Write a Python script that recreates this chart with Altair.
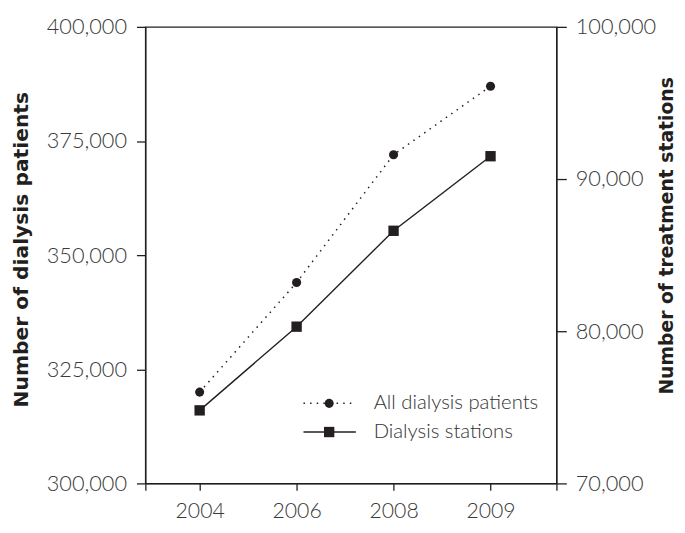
import altair as alt
import pandas as pd

years = ["2004", "2006", "2008", "2009"]
patients = [320000, 344000, 372000, 387000]
stations = [74800, 80300, 86600, 91500]
legend_labels = ["All dialysis patients", "Dialysis stations"]
left_ticks = [300000, 325000, 350000, 375000, 400000]
right_ticks = [70000, 80000, 90000, 100000]

df = pd.DataFrame({"i": list(range(len(years))), "year": years,
                   "patients": patients, "stations": stations})

INK = "#231f20"
x_lo, x_hi = -0.56, 3.68

label_expr = "''"
for k in reversed(range(len(years))):
    label_expr = f"datum.value == {k} ? '{years[k]}' : ({label_expr})"

x_enc = alt.X(
    "i:Q",
    scale=alt.Scale(domain=[x_lo, x_hi], nice=False, zero=False),
    axis=alt.Axis(values=[x_lo, 0, 1, 2, 3, x_hi], labelExpr=label_expr, title=None,
                  grid=False, tickSize=7, labelPadding=11, labelFlush=False,
                  labelOverlap=False, labelFontSize=21.5),
)

y_left = alt.Y(
    "patients:Q",
    scale=alt.Scale(domain=[300000, 400000], nice=False, zero=False),
    axis=alt.Axis(values=left_ticks, format=",d", orient="left",
                  title="Number of dialysis patients", titleX=-125, titleY=225,
                  titleAngle=270, titleAlign="center", titleBaseline="middle",
                  titleFontSize=20.5,
                  tickSize=9, labelPadding=10, grid=False),
)
y_right = alt.Y(
    "stations:Q",
    scale=alt.Scale(domain=[70000, 100000], nice=False, zero=False),
    axis=alt.Axis(values=right_ticks, format=",d", orient="right",
                  title="Number of treatment stations", titleX=111, titleY=211,
                  titleAngle=270, titleAlign="center", titleBaseline="middle",
                  titleFontSize=19,
                  tickSize=10, labelPadding=9, grid=False),
)

base = alt.Chart(df)
p_line = base.mark_line(color=INK, strokeWidth=1.5, strokeDash=[1.5, 5.2]).encode(x=x_enc, y=y_left)
p_pts = base.mark_point(shape="circle", filled=True, size=85, color=INK, opacity=1).encode(x=x_enc, y=y_left)
s_line = base.mark_line(color=INK, strokeWidth=1.4).encode(x=x_enc, y=y_right)
s_pts = base.mark_point(shape="square", filled=True, size=110, color=INK, opacity=1).encode(x=x_enc, y=y_right)

left = alt.layer(p_line, p_pts)
right = alt.layer(s_line, s_pts)

# manual legend
l1 = alt.Chart(pd.DataFrame({"label": [legend_labels[0]]}))
l2 = alt.Chart(pd.DataFrame({"label": [legend_labels[1]]}))
r1y, r2y = 381, 410
leg = alt.layer(
    l1.mark_rule(color=INK, strokeWidth=1.5, strokeDash=[1.5, 5.2]).encode(
        x=alt.value(160), x2=alt.value(213), y=alt.value(r1y)),
    l1.mark_point(shape="circle", filled=True, size=85, color=INK, opacity=1).encode(
        x=alt.value(186), y=alt.value(r1y)),
    l1.mark_text(align="left", baseline="middle", font="Lato", fontWeight=300,
                 fontSize=20.5, color="#333333").encode(
        x=alt.value(231), y=alt.value(r1y), text="label:N"),
    l2.mark_rule(color=INK, strokeWidth=1.4).encode(
        x=alt.value(160), x2=alt.value(213), y=alt.value(r2y)),
    l2.mark_point(shape="square", filled=True, size=110, color=INK, opacity=1).encode(
        x=alt.value(186), y=alt.value(r2y)),
    l2.mark_text(align="left", baseline="middle", font="Lato", fontWeight=300,
                 fontSize=20.5, color="#333333").encode(
        x=alt.value(231), y=alt.value(r2y), text="label:N"),
)

chart = alt.layer(left, right, leg).resolve_scale(y="independent").properties(
    width=416, height=462,
    padding={"left": 139, "top": 16, "right": 122, "bottom": 39},
    autosize=alt.AutoSizeParams(type="none"),
).configure_view(
    stroke=INK, strokeWidth=1.3
).configure_axis(
    domainColor=INK, domainWidth=1.3, tickColor=INK, tickWidth=1.3,
    labelFont="Lato", labelFontWeight=300, labelFontSize=22, labelColor="#3a3a3a",
    titleFont="DejaVu Sans", titleFontWeight="bold", titleColor="#231f20",
)

chart.save("out.html", embed_options={"renderer": "svg", "actions": False})
